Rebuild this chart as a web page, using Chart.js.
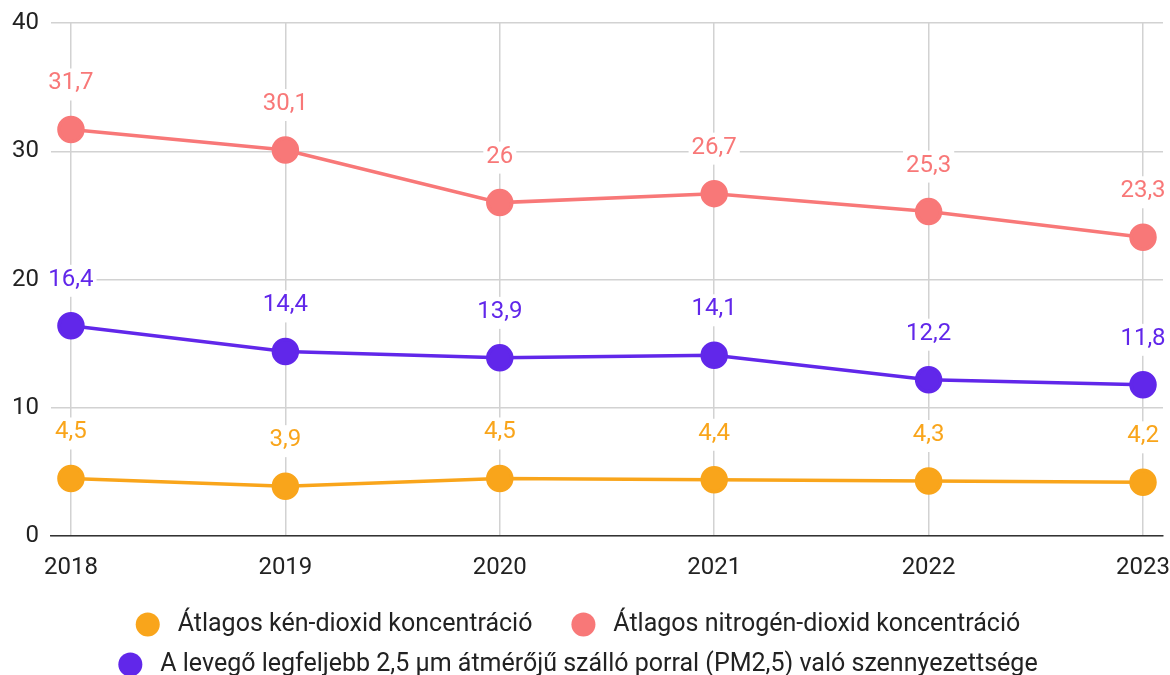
<!DOCTYPE html>
<html>
<head>
<meta charset="utf-8">
<script src="https://cdn.jsdelivr.net/npm/chart.js@4"></script>
<style>
  html, body { margin: 0; padding: 0; background: #fff; }
  #wrap { width: 1170px; height: 675px; position: relative; }
</style>
</head>
<body>
<div id="wrap"><canvas id="c"></canvas></div>
<script>
const years = [2018, 2019, 2020, 2021, 2022, 2023];
const so2 = [4.5, 3.9, 4.5, 4.4, 4.3, 4.2];
const no2 = [31.7, 30.1, 26, 26.7, 25.3, 23.3];
const pm25 = [16.4, 14.4, 13.9, 14.1, 12.2, 11.8];
const yTicks = [0, 10, 20, 30, 40];
const seriesNames = [
  'Átlagos kén-dioxid koncentráció',
  'Átlagos nitrogén-dioxid koncentráció',
  'A levegő legfeljebb 2,5 µm átmérőjű szálló porral (PM2,5) való szennyezettsége'
];
const colors = ['#F9A51B', '#F87878', '#6127EA'];

const FONT = 'Roboto, "Noto Sans", sans-serif';
const fmt = v => String(v).replace('.', ',');

function ds(name, values, color) {
  return {
    label: name,
    data: values.map((v, i) => ({ x: years[i], y: v })),
    borderColor: color,
    backgroundColor: color,
    pointBackgroundColor: color,
    pointBorderColor: color,
    borderWidth: 3.5,
    pointRadius: 12,
    pointHoverRadius: 12,
    tension: 0,
    clip: false
  };
}

const labelPlugin = {
  id: 'valueLabels',
  afterDatasetsDraw(chart) {
    const ctx = chart.ctx;
    ctx.save();
    ctx.font = '24px ' + FONT;
    ctx.textAlign = 'center';
    ctx.textBaseline = 'middle';
    chart.data.datasets.forEach((d, di) => {
      const meta = chart.getDatasetMeta(di);
      meta.data.forEach((pt, i) => {
        const txt = fmt(d.data[i].y);
        const y = pt.y - 46;
        const w = ctx.measureText(txt).width;
        ctx.fillStyle = '#ffffff';
        ctx.fillRect(pt.x - w / 2 - 3, y - 15, w + 6, 32);
        ctx.fillStyle = d.borderColor;
        ctx.fillText(txt, pt.x, y);
      });
    });
    ctx.restore();
  }
};

const span = 0.0932;
new Chart(document.getElementById('c'), {
  type: 'line',
  data: {
    datasets: [
      ds(seriesNames[0], so2, colors[0]),
      ds(seriesNames[1], no2, colors[1]),
      ds(seriesNames[2], pm25, colors[2])
    ]
  },
  options: {
    responsive: true,
    maintainAspectRatio: false,
    animation: false,
    events: [],
    layout: { autoPadding: false, padding: { left: 0, right: 7, top: 23, bottom: -12 } },
    scales: {
      x: {
        type: 'linear',
        min: years[0] - span,
        max: years[years.length - 1] + span,
        afterBuildTicks: s => { s.ticks = years.map(v => ({ value: v })); },
        afterFit: s => { s.paddingLeft = 0; s.paddingRight = 0; s.height -= 2; },
        ticks: {
          callback: v => String(v),
          color: '#222',
          font: { family: FONT, size: 24 },
          padding: 17,
          maxRotation: 0,
          autoSkip: false
        },
        grid: { color: '#d2d2d2', lineWidth: 1.5, drawTicks: false },
        border: { display: true, color: '#333', width: 1.5 }
      },
      y: {
        min: 0,
        max: 40,
        afterBuildTicks: s => { s.ticks = yTicks.map(v => ({ value: v })); },
        afterFit: s => { s.paddingTop = 0; s.paddingBottom = 0; },
        ticks: {
          color: '#222',
          font: { family: FONT, size: 24 },
          padding: 12
        },
        grid: { color: '#d2d2d2', lineWidth: 1.5, drawTicks: false },
        border: { display: false }
      }
    },
    plugins: {
      tooltip: { enabled: false },
      legend: {
        position: 'bottom',
        labels: {
          usePointStyle: true,
          pointStyle: 'circle',
          boxWidth: 10,
          boxHeight: 17,
          padding: 15,
          color: '#222',
          font: { family: FONT, size: 25 },
          generateLabels(chart) {
            return chart.data.datasets.map((d, i) => ({
              text: '  ' + d.label + (i === 0 ? '     ' : ''),
              fillStyle: d.borderColor,
              strokeStyle: d.borderColor,
              lineWidth: 0,
              pointStyle: 'circle',
              hidden: false,
              datasetIndex: i,
              fontColor: '#222'
            }));
          }
        }
      }
    }
  },
  plugins: [labelPlugin]
});
</script>
</body>
</html>
